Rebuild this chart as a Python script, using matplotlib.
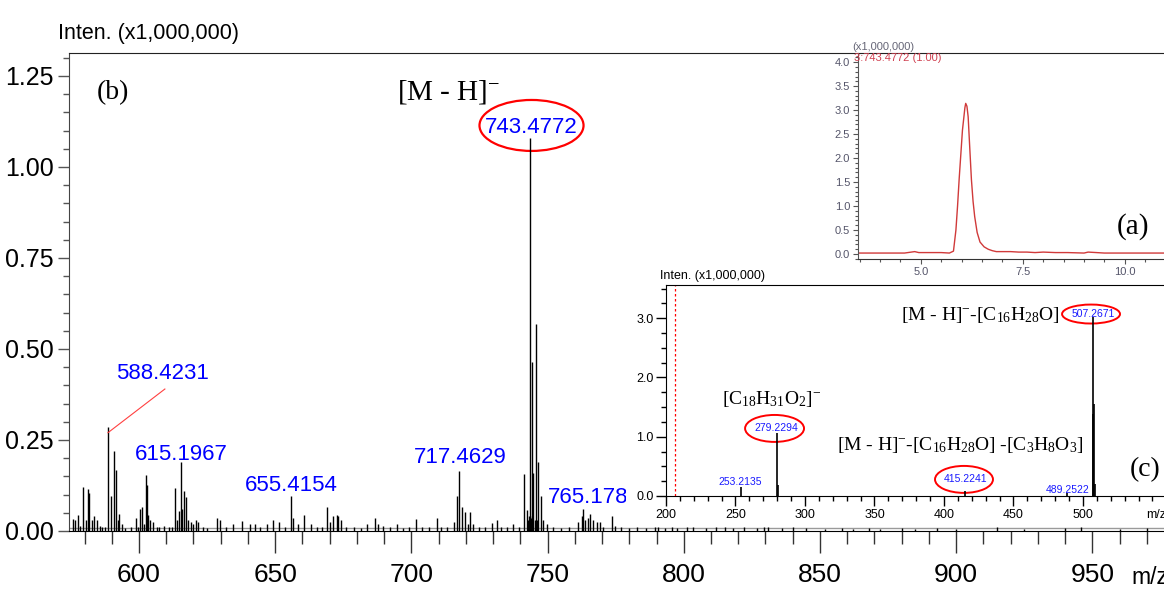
import matplotlib
matplotlib.use('Agg')
import matplotlib.pyplot as plt
from matplotlib.patches import Ellipse, Rectangle
from matplotlib.ticker import MultipleLocator

plt.rcParams['mathtext.fontset'] = 'custom'
plt.rcParams['mathtext.rm'] = 'Liberation Serif'
plt.rcParams['mathtext.it'] = 'Liberation Serif:italic'
plt.rcParams['mathtext.bf'] = 'Liberation Serif:bold'

NARROW = ['Liberation Sans Narrow', 'Liberation Sans', 'DejaVu Sans']
SANS = ['Liberation Sans', 'DejaVu Sans']
SERIF = ['Liberation Serif', 'DejaVu Serif']

# ---------------- data: main MS spectrum (b) ----------------
main_mz = [575.6, 576.6, 577.7, 578.5, 579.5, 580.5, 581.4, 581.8, 582.6, 583.5,
           584.5, 585.5, 586.3, 587.4, 588.6, 589.6, 590.8, 591.6, 592.4, 592.8,
           593.8, 595.0, 597.0, 598.9, 599.5, 600.4, 601.0, 601.7, 602.5, 602.8,
           603.4, 604.2, 605.0, 606.5, 607.5, 609.0, 611.0, 612.0, 613.3, 613.9,
           614.7, 615.4, 615.9, 616.6, 617.2, 618.1, 619.0, 620.0, 620.8, 621.8,
           623.5, 625.0, 628.5, 629.7, 632.0, 634.6, 637.7, 640.7, 642.6, 644.5,
           646.9, 649.3, 651.5, 653.6, 655.7, 656.6, 658.3, 660.6, 663.0, 665.5,
           667.0, 669.1, 670.1, 671.3, 672.6, 673.2, 674.0, 676.0, 679.0, 681.5,
           683.6, 686.6, 687.8, 689.7, 692.0, 694.6, 697.0, 699.0, 701.6, 704.0,
           706.5, 709.3, 711.0, 713.0, 715.6, 716.6, 717.6, 718.5, 719.7, 720.6,
           721.5, 722.7, 725.0, 727.0, 729.5, 731.3, 733.0, 735.0, 737.4, 739.5,
           741.3, 742.3, 742.8, 743.2, 743.5, 743.8, 744.2, 744.4, 744.7, 745.2,
           745.6, 746.0, 746.4, 747.6, 748.4, 749.7, 752.0, 755.0, 758.0, 761.3,
           762.5, 763.1, 763.6, 764.9, 765.5, 766.8, 768.1, 769.2, 770.5, 773.5,
           774.7, 777.0, 780.0, 783.0, 786.0, 789.4, 790.6, 793.0, 795.5, 797.5,
           801.0, 803.5, 808.0, 812.0, 815.0, 818.0, 822.0, 827.0, 829.5, 831.0,
           836.0, 840.0, 845.0, 852.0, 858.0, 862.0, 868.0, 872.0, 880.0, 885.0,
           893.0, 900.0, 915.0, 925.0, 940.0, 946.0, 960.0, 970.0]
main_int = [0.033, 0.030, 0.045, 0.015, 0.120, 0.030, 0.115, 0.105, 0.030, 0.040,
            0.030, 0.015, 0.010, 0.012, 0.285, 0.095, 0.220, 0.168, 0.030, 0.047,
            0.020, 0.008, 0.010, 0.035, 0.010, 0.060, 0.065, 0.020, 0.155, 0.127,
            0.045, 0.030, 0.025, 0.012, 0.010, 0.015, 0.010, 0.010, 0.118, 0.030,
            0.055, 0.190, 0.060, 0.110, 0.093, 0.030, 0.025, 0.020, 0.030, 0.025,
            0.012, 0.008, 0.035, 0.030, 0.010, 0.020, 0.028, 0.018, 0.020, 0.012,
            0.020, 0.030, 0.025, 0.012, 0.095, 0.035, 0.020, 0.045, 0.020, 0.010,
            0.012, 0.065, 0.025, 0.040, 0.045, 0.040, 0.030, 0.010, 0.012, 0.008,
            0.020, 0.035, 0.020, 0.015, 0.010, 0.020, 0.008, 0.010, 0.033, 0.010,
            0.012, 0.036, 0.012, 0.010, 0.025, 0.095, 0.166, 0.067, 0.053, 0.020,
            0.053, 0.020, 0.010, 0.012, 0.022, 0.030, 0.012, 0.010, 0.020, 0.012,
            0.157, 0.058, 0.030, 0.040, 1.080, 0.035, 0.040, 0.465, 0.160, 0.030,
            0.568, 0.030, 0.190, 0.096, 0.030, 0.020, 0.010, 0.008, 0.010, 0.025,
            0.040, 0.060, 0.030, 0.035, 0.046, 0.030, 0.025, 0.025, 0.012, 0.040,
            0.015, 0.010, 0.008, 0.010, 0.008, 0.010, 0.012, 0.008, 0.010, 0.008,
            0.012, 0.010, 0.008, 0.010, 0.012, 0.008, 0.010, 0.008, 0.012, 0.010,
            0.008, 0.010, 0.008, 0.006, 0.008, 0.006, 0.008, 0.006, 0.008, 0.006,
            0.008, 0.006, 0.010, 0.006, 0.008, 0.010, 0.006, 0.008]
main_labels = ['743.4772', '588.4231', '615.1967', '655.4154', '717.4629', '765.1783']
main_xticks = [600, 650, 700, 750, 800, 850, 900, 950]
main_yticks = [0.00, 0.25, 0.50, 0.75, 1.00, 1.25]

# ---------------- data: MS/MS spectrum (c) ----------------
msms_mz = [253.7, 279.6, 280.3, 415.1, 488.5, 506.9, 507.3, 507.8, 508.7]
msms_int = [0.15, 1.06, 0.18, 0.08, 0.05, 1.38, 3.02, 1.55, 0.20]
msms_labels = ['253.2135', '279.2294', '415.2241', '489.2522', '507.2671']
msms_xticks = [200, 250, 300, 350, 400, 450, 500]
msms_yticks = [0.0, 1.0, 2.0, 3.0]

# ---------------- data: chromatogram (a) ----------------
rt = [3.46, 3.8, 4.2, 4.6, 4.85, 4.95, 5.2, 5.5, 5.7, 5.80,
      5.86, 5.90, 5.94, 6.02, 6.08, 6.10, 6.13, 6.16, 6.20, 6.24,
      6.28, 6.32, 6.38, 6.45, 6.55, 6.65, 6.75, 6.85, 7.0, 7.2,
      7.4, 7.6, 7.8, 8.0, 8.3, 8.6, 9.0, 9.1, 9.5, 10.0,
      10.5, 10.96]
chrom = [0.02, 0.02, 0.02, 0.02, 0.05, 0.03, 0.03, 0.03, 0.02, 0.06,
         0.50, 1.00, 1.57, 2.58, 3.05, 3.14, 3.08, 2.86, 2.20, 1.55,
         1.10, 0.78, 0.45, 0.25, 0.15, 0.10, 0.07, 0.05, 0.05, 0.05,
         0.04, 0.04, 0.03, 0.04, 0.03, 0.03, 0.02, 0.04, 0.02, 0.02,
         0.02, 0.02]
chrom_xticks = [5.0, 7.5, 10.0]
chrom_yticks = [0.0, 0.5, 1.0, 1.5, 2.0, 2.5, 3.0, 3.5, 4.0]

W, H = 1164, 594


def fpos(l, t, r, b):
    return [l / W, 1 - b / H, (r - l) / W, (b - t) / H]


fig = plt.figure(figsize=(W / 100, H / 100), dpi=100)
fig.patch.set_facecolor('white')

# ================= main axes (b) =================
ax = fig.add_axes(fpos(69, 53, 1164, 531), zorder=0)
ax.vlines(main_mz, 0, main_int, color='black', lw=1.0)
ax.axhline(0.008, color='#9a9a9a', lw=1.0, zorder=1)
ax.set_xlim(574.3, 976.3)
ax.set_ylim(0, 1.313)
ax.spines['right'].set_visible(False)
ax.spines['left'].set_color('#444444')
ax.spines['top'].set_color('#222222')
ax.set_xticks(main_xticks)
ax.set_xticklabels([str(v) for v in main_xticks])
ax.set_yticks(main_yticks)
ax.set_yticklabels(['%.2f' % v for v in main_yticks])
ax.xaxis.set_minor_locator(MultipleLocator(10))
ax.yaxis.set_minor_locator(MultipleLocator(0.05))
ax.tick_params(axis='x', which='major', length=16, width=1, direction='out',
               labelsize=19, pad=7, labelfontfamily=NARROW, color='#333333')
ax.tick_params(axis='x', which='minor', length=9.5, width=1, direction='out',
               color='#333333')
ax.tick_params(axis='y', which='major', length=8, width=1, direction='out',
               labelsize=18, pad=3, labelfontfamily=NARROW, color='#555555')
ax.tick_params(axis='y', which='minor', length=4.3, width=1, direction='out',
               color='#555555')

fig.text(58 / W, 1 - 33 / H, 'Inten. (x1,000,000)', fontsize=15.5,
         family=NARROW, ha='left', va='center')
fig.text(1131 / W, 1 - 577 / H, 'm/z', fontsize=16.5, family=NARROW,
         ha='left', va='center')

ax.text(584.6, 1.203, '(b)', fontsize=20, family=SERIF, ha='left', va='center')
ax.text(694.7, 1.206, r'[M - H]$^{-}$', fontsize=21, family=SERIF,
        ha='left', va='center')

blue = '#0000ff'
LS = 16
ax.text(743.9, 1.107, main_labels[0], fontsize=LS, family=NARROW, color=blue,
        ha='center', va='center')
ax.add_patch(Ellipse((744.1, 1.114), 38.2, 0.14, fill=False, edgecolor='red', lw=1.6))
ax.text(608.8, 0.434, main_labels[1], fontsize=LS, family=NARROW, color=blue,
        ha='center', va='center')
ax.plot([588.6, 609.5], [0.27, 0.39], color='#ff4040', lw=0.8)
ax.text(615.4, 0.211, main_labels[2], fontsize=LS, family=NARROW, color=blue,
        ha='center', va='center')
ax.text(655.8, 0.124, main_labels[3], fontsize=LS, family=NARROW, color=blue,
        ha='center', va='center')
ax.text(717.8, 0.203, main_labels[4], fontsize=LS, family=NARROW, color=blue,
        ha='center', va='center')
ax.text(750.1, 0.091, main_labels[5], fontsize=LS, family=NARROW, color=blue,
        ha='left', va='center')

# white background of inset (c)
fig.patches.append(Rectangle((626 / W, 1 - 525 / H), (1164 - 626) / W, (525 - 263) / H,
                             transform=fig.transFigure, facecolor='white',
                             edgecolor='none', zorder=1))

# ================= inset (c) =================
axc = fig.add_axes(fpos(666, 285, 1164, 496), zorder=2)
axc.vlines(msms_mz, 0, msms_int, color='black', lw=1.2)
axc.axvline(206.5, color='red', ls=(0, (2, 2)), lw=0.9)
axc.set_xlim(200, 558.3)
axc.set_ylim(0, 3.56)
axc.spines['right'].set_visible(False)
axc.set_xticks(msms_xticks)
axc.set_xticklabels([str(v) for v in msms_xticks])
axc.set_yticks(msms_yticks)
axc.set_yticklabels(['%.1f' % v for v in msms_yticks])
axc.xaxis.set_minor_locator(MultipleLocator(10))
axc.yaxis.set_minor_locator(MultipleLocator(0.25))
axc.tick_params(axis='both', which='major', length=7, width=1, direction='out',
                labelsize=9, pad=2, labelfontfamily=NARROW)
axc.tick_params(axis='both', which='minor', length=3.6, width=1, direction='out')
fig.text(660 / W, 1 - 276 / H, 'Inten. (x1,000,000)', fontsize=9,
         family=NARROW, ha='left', va='center', zorder=3)
axc.text(560, -0.32, 'm/z', fontsize=9, family=NARROW, ha='right', va='center',
         clip_on=False)

cb = '#1a1aff'
SS = 7.5
axc.text(253.2, 0.236, msms_labels[0], fontsize=SS, family=NARROW, color=cb,
         ha='center', va='center')
axc.text(279.1, 1.147, msms_labels[1], fontsize=SS, family=NARROW, color=cb,
         ha='center', va='center')
axc.add_patch(Ellipse((278.1, 1.14), 42.4, 0.455, fill=False, edgecolor='red', lw=1.4))
axc.text(415.8, 0.287, msms_labels[2], fontsize=SS, family=NARROW, color=cb,
         ha='center', va='center')
axc.add_patch(Ellipse((414.4, 0.28), 41.7, 0.455, fill=False, edgecolor='red', lw=1.4,
                      clip_on=False))
axc.text(489.2, 0.10, msms_labels[3], fontsize=SS, family=NARROW, color=cb,
         ha='center', va='center')
axc.text(507.2, 3.07, msms_labels[4], fontsize=SS, family=NARROW, color=cb,
         ha='center', va='center')
axc.add_patch(Ellipse((505.8, 3.07), 41.7, 0.32, fill=False, edgecolor='red', lw=1.4))

axc.text(483.5, 3.05, r'[M - H]$^{-}$-[C$_{16}$H$_{28}$O]', fontsize=14,
         family=SERIF, ha='right', va='center')
axc.text(240.3, 1.64, r'[C$_{18}$H$_{31}$O$_{2}$]$^{-}$', fontsize=14,
         family=SERIF, ha='left', va='center')
axc.text(411.9, 0.86, r'[M - H]$^{-}$-[C$_{16}$H$_{28}$O] -[C$_{3}$H$_{8}$O$_{3}$]',
         fontsize=14, family=SERIF, ha='center', va='center')
axc.text(544.6, 0.44, '(c)', fontsize=20, family=SERIF, ha='center', va='center')

# ================= inset (a) =================
axa = fig.add_axes(fpos(858, 53, 1164, 259), zorder=3)
axa.patch.set_alpha(0)
axa.plot(rt, chrom, color='#d03a3a', lw=1.0)
axa.set_xlim(3.46, 10.96)
axa.set_ylim(-0.104, 4.19)
axa.spines['top'].set_visible(False)
axa.spines['right'].set_visible(False)
axa.spines['left'].set_color('#555555')
axa.spines['bottom'].set_color('#333333')
axa.set_xticks(chrom_xticks)
axa.set_xticklabels(['%.1f' % v for v in chrom_xticks])
axa.set_yticks(chrom_yticks)
axa.set_yticklabels(['%.1f' % v for v in chrom_yticks])
axa.xaxis.set_minor_locator(MultipleLocator(0.5))
axa.yaxis.set_minor_locator(MultipleLocator(0.1))
axa.tick_params(axis='both', which='major', length=3.6, width=0.8, direction='out',
                labelsize=8, pad=2, labelcolor='#55556a', color='#555555',
                labelfontfamily=SANS)
axa.tick_params(axis='both', which='minor', length=2, width=0.8, direction='out',
                color='#555555')
fig.text(852 / W, 1 - 47 / H, '(x1,000,000)', fontsize=8, family=SANS,
         color='#666677', ha='left', va='center', zorder=4)
fig.text(854 / W, 1 - 58 / H, '3:743.4772 (1.00)', fontsize=8, family=SANS,
         color='#d04050', ha='left', va='center', zorder=4)
fig.text(1133 / W, 1 - 227 / H, '(a)', fontsize=21, family=SERIF,
         ha='center', va='center', zorder=4)

fig.savefig('out.png', dpi=100, facecolor='white')
